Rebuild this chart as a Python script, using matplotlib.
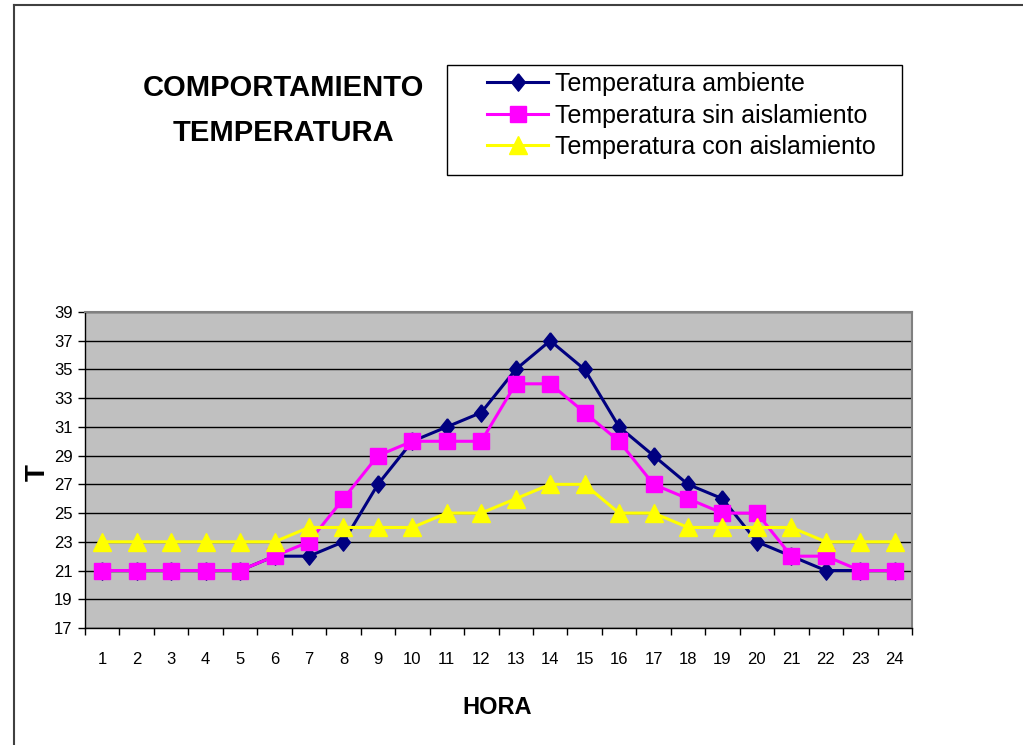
import matplotlib
matplotlib.use("Agg")
import matplotlib.pyplot as plt
from matplotlib.lines import Line2D
from matplotlib.patches import Rectangle

# data
horas = list(range(1, 25))
temp_ambiente = [21, 21, 21, 21, 21, 22, 22, 23, 27, 30, 31, 32,
                 35, 37, 35, 31, 29, 27, 26, 23, 22, 21, 21, 21]
temp_sin = [21, 21, 21, 21, 21, 22, 23, 26, 29, 30, 30, 30,
            34, 34, 32, 30, 27, 26, 25, 25, 22, 22, 21, 21]
temp_con = [23, 23, 23, 23, 23, 23, 24, 24, 24, 24, 25, 25,
            26, 27, 27, 25, 25, 24, 24, 24, 24, 23, 23, 23]
y_ticks = list(range(17, 40, 2))

plt.rcParams['font.family'] = ['Liberation Sans', 'DejaVu Sans']

W, H = 1023, 745
fig = plt.figure(figsize=(W / 100, H / 100), dpi=100)

# plot area in pixels: x 85..912, y 312..628
ax = fig.add_axes([85 / W, 1 - 628 / H, 827 / W, 316 / H])
ax.set_facecolor('#C0C0C0')

# a diamond a little taller than wide, like Excel's
diamond = [(0, 1), (0.8, 0), (0, -1), (-0.8, 0), (0, 1)]

ax.plot(horas, temp_ambiente, color='#000080', lw=2.2, marker=diamond, ms=12.5,
        mfc='#000080', mec='#000080', label='Temperatura ambiente', zorder=3)
ax.plot(horas, temp_sin, color='#FF00FF', lw=2.2, marker='s', ms=11,
        mfc='#FF00FF', mec='#FF00FF', label='Temperatura sin aislamiento', zorder=4)
ax.plot(horas, temp_con, color='#FFFF00', lw=2.2, marker='^', ms=12.5,
        mfc='#FFFF00', mec='#FFFF00', label='Temperatura con aislamiento', zorder=5)

ax.set_xlim(0.5, 24.5)
ax.set_ylim(17, 39)
ax.set_yticks(y_ticks)
ax.yaxis.grid(True, color='black', lw=1)
ax.set_axisbelow(True)

# ticks between categories, labels centred on categories
ax.set_xticks([h + 0.5 for h in [0] + horas])
ax.set_xticklabels([])
ax.set_xticks(horas, minor=True)
ax.set_xticklabels([str(h) for h in horas], minor=True)
ax.tick_params(axis='x', which='major', direction='out', length=5, width=1, color='black')
ax.tick_params(axis='x', which='minor', length=0, pad=17, labelsize=12)
ax.tick_params(axis='y', direction='out', length=5, width=1, pad=4, labelsize=12)

for side in ('top', 'right'):
    ax.spines[side].set_color('#808080')
    ax.spines[side].set_linewidth(1.5)
for side in ('left', 'bottom'):
    ax.spines[side].set_color('black')
    ax.spines[side].set_linewidth(1)

fig.text(38 / W, 1 - 473 / H, 'T', rotation=90, ha='center', va='center',
         fontsize=20, fontweight='bold')
fig.text(497 / W, 1 - 707 / H, 'HORA', ha='center', va='center',
         fontsize=17, fontweight='bold')

fig.text(283 / W, 1 - 88 / H, 'COMPORTAMIENTO', ha='center', va='center',
         fontsize=21, fontweight='bold')
fig.text(283 / W, 1 - 133 / H, 'TEMPERATURA', ha='center', va='center',
         fontsize=21, fontweight='bold')

# legend: entries placed without frame, box drawn separately
leg = ax.legend(loc='upper left', bbox_to_anchor=(487 / W, 1 - 72 / H),
                bbox_transform=fig.transFigure, fontsize=18, frameon=False,
                handlelength=2.45, labelspacing=0.3, borderpad=0,
                handletextpad=0.28, borderaxespad=0)
fig.add_artist(Rectangle((447 / W, 1 - 175 / H), 455 / W, 110 / H,
                         transform=fig.transFigure, fill=False,
                         edgecolor='black', lw=1))

# chart-area border (top and left edges visible)
fig.add_artist(Line2D([14 / W, 14 / W], [0, 1 - 5 / H], transform=fig.transFigure,
                      color='#404040', lw=1.5))
fig.add_artist(Line2D([14 / W, 1], [1 - 5 / H, 1 - 5 / H], transform=fig.transFigure,
                      color='#404040', lw=1.5))

fig.savefig('out.png', dpi=100)
